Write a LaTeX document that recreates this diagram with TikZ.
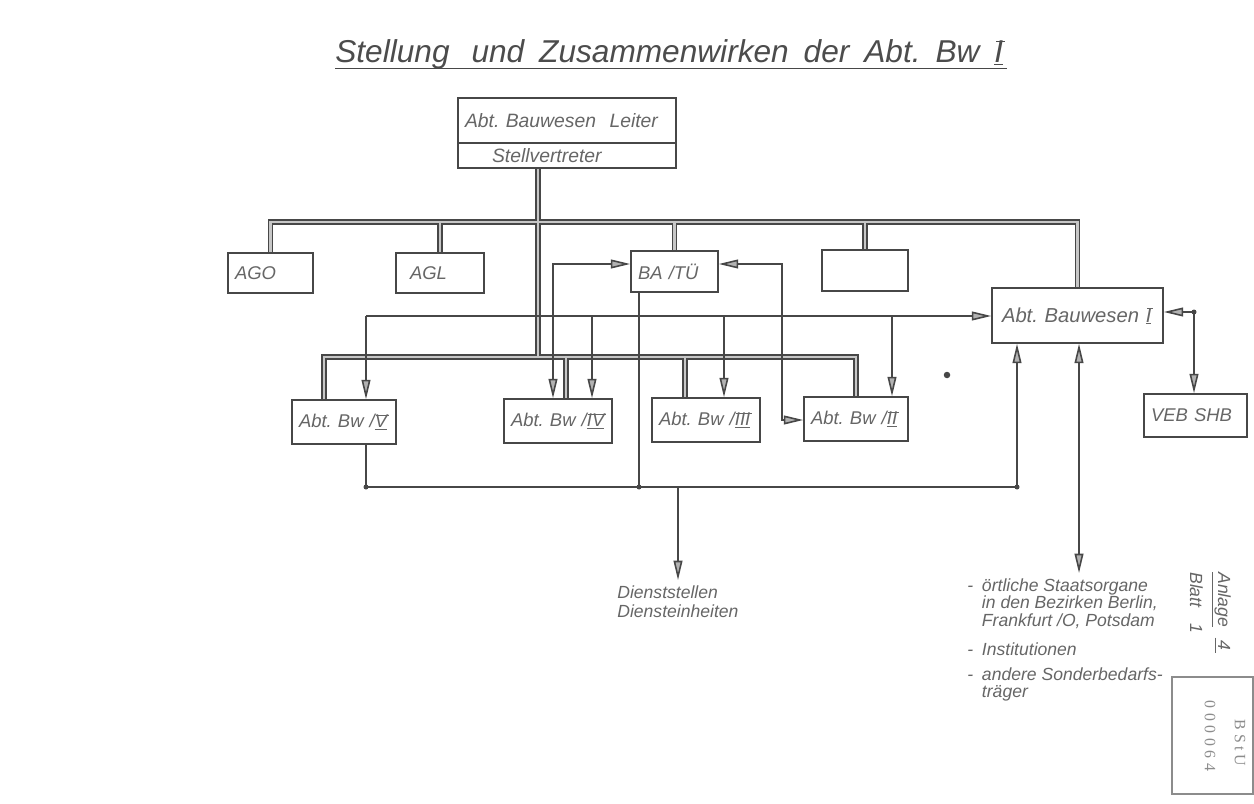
\documentclass[tikz,border=0pt]{standalone}
\usepackage{fontspec}
\setmainfont{Liberation Sans}
\newfontfamily\stampfont{Liberation Serif}
\usetikzlibrary{arrows.meta}
\frenchspacing
\definecolor{lc}{gray}{0.28}
\definecolor{tc}{gray}{0.40}
\definecolor{ttc}{gray}{0.30}
\newcommand\rmnum[1]{\begingroup\setbox0=\hbox{#1}\rlap{\rule[-0.8pt]{\wd0}{0.5pt}}\rlap{\hspace{0.9pt}\rule[\dimexpr\ht0-0.2pt\relax]{\wd0}{0.5pt}}\box0\endgroup}
\tikzset{
  obox/.style={draw=lc, line width=0.9pt, rectangle, inner xsep=0.14cm, inner ysep=0pt, text=tc, align=left, font=\itshape\fontsize{10.5}{12}\selectfont},
  conn/.style={draw=lc, line width=0.9pt},
  thickout/.style={draw=lc, line width=3.2pt},
  thickin/.style={draw=black!22, line width=1.3pt},
  jdot/.style={circle, fill=lc, draw=none, inner sep=0pt, minimum size=0.1cm},
  plaintxt/.style={text=tc, inner sep=0.1cm, font=\itshape\fontsize{10}{11.3}\selectfont},
}
\begin{document}
\begin{tikzpicture}[x=0.02cm, y=-0.02cm, >={Triangle[length=11pt,width=5pt,fill=black!30]}]
\useasboundingbox[fill=white] (0,0) rectangle (1254,804);

% title
\node[anchor=base west, inner sep=0pt, text=ttc, font=\itshape\fontsize{18}{20}\selectfont] (title) at (335,63)
  {\spaceskip=8.5pt Stellung\hspace{4pt} und Zusammenwirken der Abt. Bw \rmnum{I}};
\draw[conn, line width=0.8pt] ([yshift=-3.2pt]title.base west) -- ([yshift=-3.2pt,xshift=2pt]title.base east);

% boxes
\node[obox, minimum width=4.36cm, minimum height=0.90cm, text width=4.08cm, font=\itshape\fontsize{11}{12}\selectfont] (lead) at (567,120.5) {Abt. Bauwesen\hspace{4pt} Leiter};
\node[obox, minimum width=4.36cm, minimum height=0.50cm, text width=4.08cm, font=\itshape\fontsize{11}{12}\selectfont] (dep) at (567,155.5) {\hspace*{0.54cm}Stellvertreter};

\node[obox, minimum width=1.70cm, minimum height=0.80cm, text width=1.42cm] (AGO) at (270.5,273) {AGO};
\node[obox, minimum width=1.76cm, minimum height=0.80cm, text width=1.48cm] (AGL) at (440,273) {\hspace*{0.14cm}AGL};
\node[obox, minimum width=1.74cm, minimum height=0.82cm, text width=1.46cm] (BA) at (674.5,271.5) {BA /TÜ};
\node[obox, minimum width=1.72cm, minimum height=0.82cm] (emp) at (865,270.5) {};
\node[obox, minimum width=3.42cm, minimum height=1.10cm, text width=3.14cm, font=\itshape\fontsize{11.5}{13}\selectfont] (AbtI) at (1077.5,315.5) {\mbox{\hspace*{0.06cm}Abt. Bauwesen \rmnum{I}}};
\node[obox, minimum width=2.06cm, minimum height=0.86cm, text width=1.78cm] (VEB) at (1195.5,415.5) {VEB SHB};

\node[obox, minimum width=2.08cm, minimum height=0.88cm, text width=1.80cm] (BwV) at (344,422) {\mbox{Abt. Bw /\rmnum{V}}};
\node[obox, minimum width=2.16cm, minimum height=0.88cm, text width=1.88cm] (BwIV) at (558,421) {\mbox{Abt. Bw /\rmnum{IV}}};
\node[obox, minimum width=2.16cm, minimum height=0.88cm, text width=1.88cm] (BwIII) at (706,420) {\mbox{Abt. Bw /\rmnum{III}}};
\node[obox, minimum width=2.08cm, minimum height=0.88cm, text width=1.80cm] (BwII) at (856,419) {\mbox{Abt. Bw /\rmnum{II}}};

% texts
\node[plaintxt, anchor=north west, align=left] (dien) at (612,580) {Dienststellen\\Diensteinheiten};
\node[plaintxt, anchor=north west, font=\itshape\fontsize{10}{9.8}\selectfont] (org) at (962,573)
  {\begin{tabular}{@{}l@{\hspace{5pt}}l@{}}
   - & örtliche Staatsorgane\\
     & in den Bezirken Berlin,\\
     & Frankfurt /O, Potsdam\\[6pt]
   - & Institutionen\\[4pt]
   - & andere Sonderbedarfs-\\
     & träger
   \end{tabular}};
\node[plaintxt, rotate=-90, anchor=base west, inner sep=0pt, align=left, font=\itshape\fontsize{10}{16}\selectfont] (anl) at (1190,572)
  {\underline{Anlage}\hspace{6pt}\underline{\,4\,}\\Blatt\hspace{9pt}1};

% stamp
\node[draw=black!45, line width=0.6pt, minimum width=1.62cm, minimum height=2.34cm, inner sep=0pt] (stamp) at (1212.5,735.5) {};
\node[rotate=-90, text=black!45, inner sep=0pt, font=\stampfont\fontsize{9}{10}\selectfont] (bstu) at (1240,743) {B\kern2.5pt S\kern2pt t\kern2pt U};
\node[rotate=-90, text=black!45, inner sep=0pt, font=\stampfont\fontsize{9}{10}\selectfont] (num) at (1210,736) {0\kern2.6pt 0\kern2.6pt 0\kern2.6pt 0\kern2.6pt 6\kern2.6pt 4};

% stray mark
\node[jdot, minimum size=0.13cm] (stray) at (947,375) {};

% helper coordinates
\coordinate (tbus) at (0,222);
\coordinate (mbus) at (0,357);
\coordinate (mx) at (538,0);
\coordinate (x5) at (324,0);
\coordinate (x4) at (566,0);
\coordinate (x3) at (685,0);
\coordinate (t1) at (366,316);
\coordinate (t4) at (592,316);
\coordinate (t3) at (724,316);
\coordinate (t2) at (892,316);
\coordinate (ca) at (553,264);
\coordinate (cb) at (782,264);
\coordinate (cb2) at (782,420);
\coordinate (d1) at (366,487);
\coordinate (d2) at (639,487);
\coordinate (d3) at (678,487);
\coordinate (d4) at (1017,487);
\coordinate (r1) at (1079,0);
\coordinate (dv) at (1194,312);

% thick (double) lines
\foreach \st in {thickout,thickin}{
  \draw[\st] (AGO.north) -- (AGO.north |- tbus) -- (AbtI.north |- tbus) -- (AbtI.north);
  \draw[\st] (AGL.north |- tbus) -- (AGL.north);
  \draw[\st] (BA.north |- tbus) -- (BA.north);
  \draw[\st] (emp.north |- tbus) -- (emp.north);
  \draw[\st] (dep.south -| mx) -- (mx |- mbus);
  \draw[\st] (x5 |- BwV.north) -- (x5 |- mbus) -- (BwII.north |- mbus) -- (BwII.north);
  \draw[\st] (x4 |- mbus) -- (x4 |- BwIV.north);
  \draw[\st] (x3 |- mbus) -- (x3 |- BwIII.north);
}

% thin connectors
\draw[conn,->] (t1) -- (t1 -| AbtI.west);
\draw[conn,->] (t1) -- (t1 |- BwV.north);
\draw[conn,->] (t4) -- (t4 |- BwIV.north);
\draw[conn,->] (t3) -- (t3 |- BwIII.north);
\draw[conn,->] (t2) -- (t2 |- BwII.north);
\draw[conn,<->] (ca -| BA.west) -- (ca) -- (ca |- BwIV.north);
\draw[conn,<->] (cb -| BA.east) -- (cb) -- (cb2) -- (cb2 -| BwII.west);
\draw[conn] (d2 |- BA.south) -- (d2);
\draw[conn] (d1 |- BwV.south) -- (d1) -- (d4);
\draw[conn,->] (d4) -- (d4 |- AbtI.south);
\draw[conn,->] (d3) -- (d3 |- dien.north);
\draw[conn,<->] (AbtI.south -| r1) -- (r1 |- org.north);
\draw[conn,->] (dv) -- (dv -| AbtI.east);
\draw[conn,->] (dv) -- (dv |- VEB.north);

% junction dots
\node[jdot] (j1) at (d1) {};
\node[jdot] (j2) at (d2) {};
\node[jdot] (j4) at (d4) {};
\node[jdot] (jv) at (dv) {};
\end{tikzpicture}
\end{document}
